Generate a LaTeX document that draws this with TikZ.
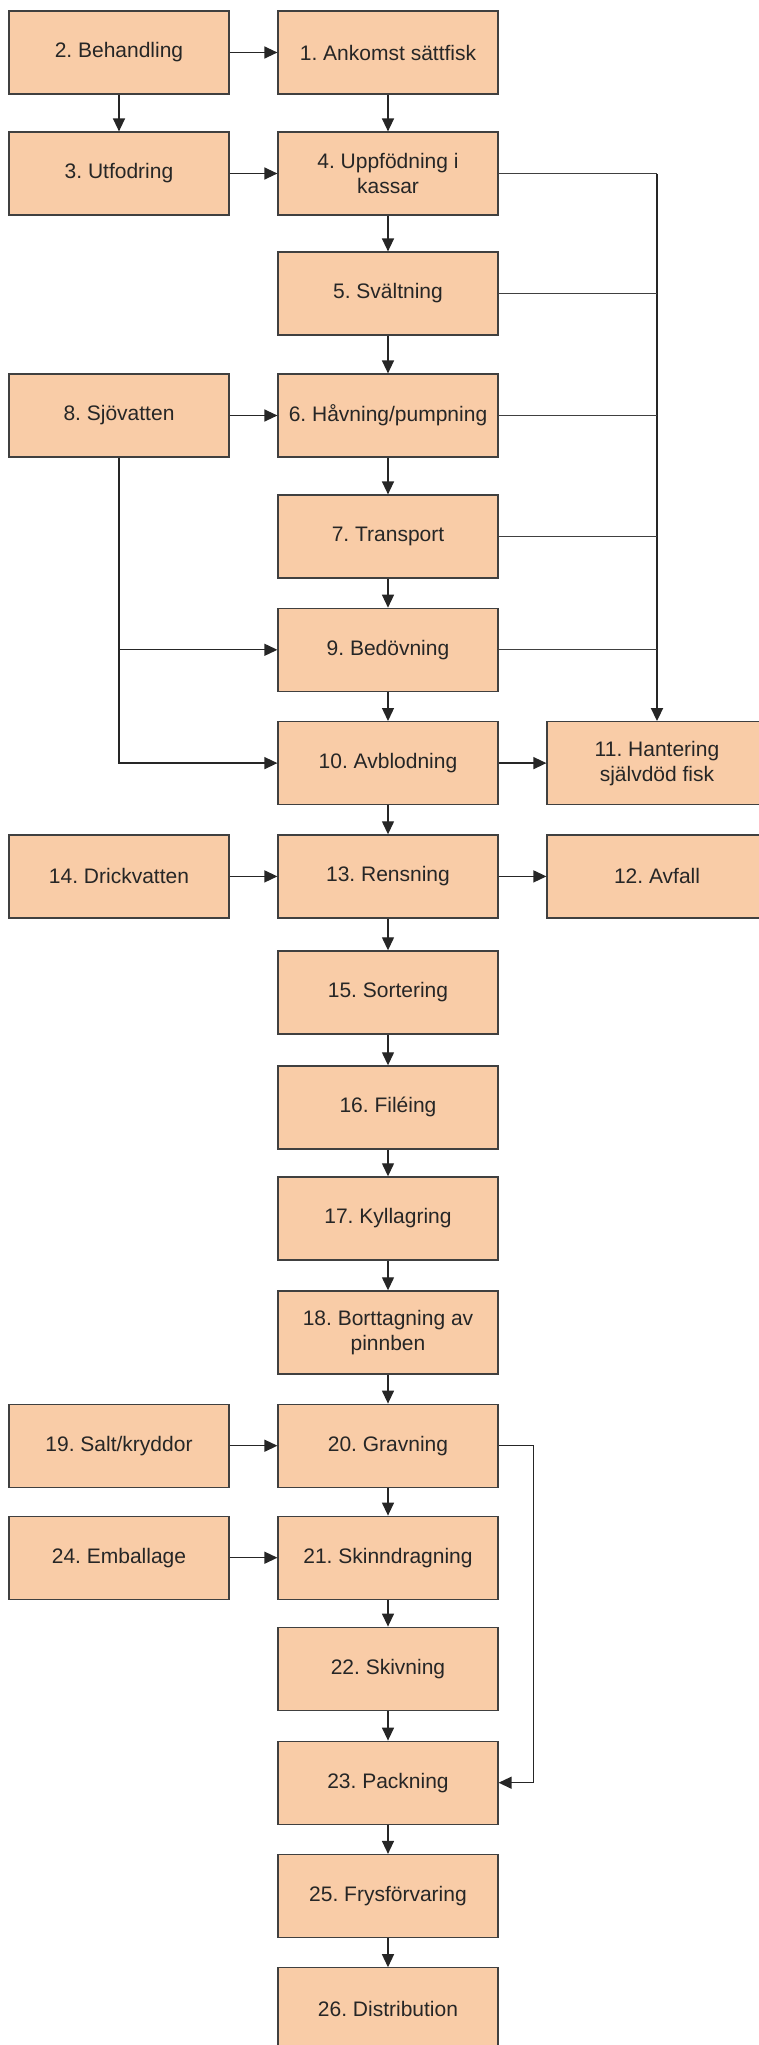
\documentclass[tikz,border=0pt]{standalone}
\usepackage{fontspec}
\setmainfont{Liberation Sans}
\usepackage{tikz}
\usetikzlibrary{arrows.meta,positioning,calc}
\definecolor{peach}{RGB}{249,204,167}
\definecolor{boxline}{RGB}{64,64,64}
\definecolor{boxtext}{RGB}{38,38,38}
\newcommand{\stagefont}{\fontsize{21}{25}\selectfont\frenchspacing}
\tikzset{
stage/.style = {draw=boxline, fill=peach, rectangle, line width=1.2pt, minimum width=220pt, minimum height=83pt, align=center, text=boxtext, font=\stagefont},
flow/.style  = {->, line width=1.3pt, draw=black!85},
link/.style  = {line width=1.3pt, draw=black!75},
trunk/.style = {->, line width=2.2pt, draw=black!85}
}

\begin{document}
\begin{tikzpicture}[x=1pt, y=-1pt, node distance=113.3pt, >={Triangle[length=13pt,width=12pt]}]
  \useasboundingbox (0,0) rectangle (759,2045);

  % middle column
  \node [stage] at (388,52.5)                                 (ankomst)      {1. Ankomst sättfisk};
  \node [stage, below of=ankomst, node distance=121pt]        (uppfodning)   {4. Uppfödning i\\kassar};
  \node [stage, below of=uppfodning, node distance=120pt]     (svaltning)    {5. Svältning};
  \node [stage, below of=svaltning, node distance=122pt]      (havning)      {6. Håvning/pumpning};
  \node [stage, below of=havning, node distance=121pt]        (transport)    {7. Transport};
  \node [stage, below of=transport]                           (bedovning)    {9. Bedövning};
  \node [stage, below of=bedovning]                           (avblodning)   {10. Avblodning};
  \node [stage, below of=avblodning]                          (rensning)     {13. Rensning};
  \node [stage, below of=rensning, node distance=116pt]       (sortering)    {15. Sortering};
  \node [stage, below of=sortering, node distance=115pt]      (fileing)      {16. Filéing};
  \node [stage, below of=fileing, node distance=111pt]        (kyllagring)   {17. Kyllagring};
  \node [stage, below of=kyllagring, node distance=114pt]     (borttagning)  {18. Borttagning av\\pinnben};
  \node [stage, below of=borttagning]                         (gravning)     {20. Gravning};
  \node [stage, below of=gravning, node distance=112pt]       (skinndragning){21. Skinndragning};
  \node [stage, below of=skinndragning, node distance=111pt]  (skivning)     {22. Skivning};
  \node [stage, below of=skivning, node distance=114pt]       (packning)     {23. Packning};
  \node [stage, below of=packning]                            (frys)         {25. Frysförvaring};
  \node [stage, below of=frys]                                (distribution) {26. Distribution};

  % left column
  \node [stage, left of=ankomst, node distance=269pt]         (behandling)   {2. Behandling};
  \node [stage, left of=uppfodning, node distance=269pt]      (utfodring)    {3. Utfodring};
  \node [stage, left of=havning, node distance=269pt]         (sjovatten)    {8. Sjövatten};
  \node [stage, left of=rensning, node distance=269pt]        (drickvatten)  {14. Drickvatten};
  \node [stage, left of=gravning, node distance=269pt]        (salt)         {19. Salt/kryddor};
  \node [stage, left of=skinndragning, node distance=269pt]   (emballage)    {24. Emballage};

  % right column
  \node [stage, right of=avblodning, node distance=269pt]     (hantering)    {11. Hantering\\självdöd fisk};
  \node [stage, right of=rensning, node distance=269pt]       (avfall)       {12. Avfall};

  % main line
  \draw [flow] (ankomst) -- (uppfodning);
  \draw [flow] (uppfodning) -- (svaltning);
  \draw [flow] (svaltning) -- (havning);
  \draw [flow] (havning) -- (transport);
  \draw [flow] (transport) -- (bedovning);
  \draw [flow] (bedovning) -- (avblodning);
  \draw [flow] (avblodning) -- (rensning);
  \draw [flow] (rensning) -- (sortering);
  \draw [flow] (sortering) -- (fileing);
  \draw [flow] (fileing) -- (kyllagring);
  \draw [flow] (kyllagring) -- (borttagning);
  \draw [flow] (borttagning) -- (gravning);
  \draw [flow] (gravning) -- (skinndragning);
  \draw [flow] (skinndragning) -- (skivning);
  \draw [flow] (skivning) -- (packning);
  \draw [flow] (packning) -- (frys);
  \draw [flow] (frys) -- (distribution);

  % inputs from the left
  \draw [flow] (behandling) -- (ankomst);
  \draw [flow] (behandling) -- (utfodring);
  \draw [flow] (utfodring) -- (uppfodning);
  \draw [flow] (sjovatten) -- (havning);
  \draw [flow] (sjovatten.south) |- (avblodning.west);
  \draw [flow] (sjovatten.south |- bedovning.west) -- (bedovning.west);
  \draw [flow] (drickvatten) -- (rensning);
  \draw [flow] (salt) -- (gravning);
  \draw [flow] (emballage) -- (skinndragning);

  % self-dead fish and waste
  \coordinate (jr) at (uppfodning.east -| hantering.north);
  \draw [link] (uppfodning.east) -- (jr);
  \draw [trunk] (jr) -- (hantering.north);
  \draw [link] (svaltning.east) -- (svaltning.east -| jr);
  \draw [link] (havning.east) -- (havning.east -| jr);
  \draw [link] (transport.east) -- (transport.east -| jr);
  \draw [link] (bedovning.east) -- (bedovning.east -| jr);
  \draw [flow] (avblodning) -- (hantering);
  \draw [flow] (rensning) -- (avfall);

  % bypass to packing
  \coordinate [right=35pt of gravning.east] (jg);
  \draw [flow] (gravning.east) -- (jg) |- (packning.east);
\end{tikzpicture}
\end{document}
